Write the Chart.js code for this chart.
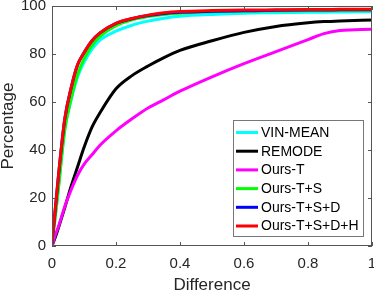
<!DOCTYPE html>
<html>
<head>
<meta charset="utf-8">
<script src="https://cdn.jsdelivr.net/npm/chart.js@4"></script>
<style>
  html, body { margin: 0; padding: 0; background: #fff; }
</style>
</head>
<body>
<canvas id="chart" width="374" height="291"></canvas>
<script>
// Data (x = difference, y = percentage)
const diffValues = [0, 0.01, 0.02, 0.04, 0.06, 0.08, 0.1, 0.125, 0.15, 0.2, 0.25, 0.3, 0.35, 0.4, 0.5, 0.6, 0.7, 0.8, 0.85, 0.9, 1];

const vinMean  = [1, 12, 24, 48.5, 61, 70.5, 76.5, 82, 85.8, 89.5, 92, 93.7, 94.9, 95.7, 96.5, 97, 97.2, 97.4, 97.4, 97.5, 97.6];
const remode   = [0, 3.5, 7.5, 16, 25, 33, 41, 49.5, 55.5, 65.5, 71, 75, 78.5, 81.5, 85.5, 89, 91.5, 93, 93.5, 93.8, 94.2];
const oursT    = [0, 4.5, 8, 16.5, 23.5, 29.5, 34, 38, 42, 48, 53, 57.5, 61, 64.5, 70.5, 76, 81, 86, 88.5, 89.8, 90.3];
const oursTS   = [1, 12, 24, 48.5, 61.5, 71.5, 78, 83.5, 87.3, 91.8, 94.2, 95.6, 96.5, 97, 97.6, 97.9, 98, 98.1, 98.1, 98.2, 98.2];
const oursTSD  = [1, 15, 29, 53, 66, 75.5, 80.5, 85.5, 88.8, 92.8, 94.7, 96, 96.9, 97.4, 97.8, 98, 98.2, 98.3, 98.3, 98.4, 98.4];
const oursTSDH = [1, 15, 29, 53, 66, 75.5, 80.5, 85.5, 88.8, 92.8, 94.8, 96.2, 97.2, 97.7, 98.1, 98.3, 98.4, 98.5, 98.5, 98.6, 98.6];

const seriesNames  = ["VIN-MEAN", "REMODE", "Ours-T", "Ours-T+S", "Ours-T+S+D", "Ours-T+S+D+H"];
const seriesValues = [vinMean, remode, oursT, oursTS, oursTSD, oursTSDH];
const seriesColors = ["#00ffff", "#000000", "#ff00ff", "#00ff00", "#0000ff", "#ff0000"];

const xTicks = [0, 0.2, 0.4, 0.6, 0.8, 1];
const yTicks = [0, 20, 40, 60, 80, 100];

const textColor = "#262626";
const axisColor = "#555555";

Chart.defaults.font.family = "'Liberation Sans', Arial, sans-serif";
Chart.defaults.color = textColor;

// Box around the axes with inward ticks, plus the legend inside the plot
const matlabBox = {
  id: "matlabBox",
  afterDatasetsDraw(chart) {
    const { ctx, chartArea: a, scales } = chart;
    const tick = 4;
    ctx.save();
    ctx.strokeStyle = axisColor;
    ctx.lineWidth = 1;
    ctx.strokeRect(a.left + 0.5, a.top + 0.5, a.width - 1, a.height - 1);
    ctx.beginPath();
    xTicks.forEach(v => {
      const px = Math.round(scales.x.getPixelForValue(v)) + 0.5;
      ctx.moveTo(px, a.bottom); ctx.lineTo(px, a.bottom - tick);
      ctx.moveTo(px, a.top); ctx.lineTo(px, a.top + tick);
    });
    yTicks.forEach(v => {
      const py = Math.round(scales.y.getPixelForValue(v)) + 0.5;
      ctx.moveTo(a.left, py); ctx.lineTo(a.left + tick, py);
      ctx.moveTo(a.right, py); ctx.lineTo(a.right - tick, py);
    });
    ctx.stroke();
    ctx.restore();
  },
  afterDraw(chart) {
    const { ctx, chartArea: a } = chart;
    const left = a.right - 139, top = a.top + 114, w = 130, h = 116;
    const rowH = 18.7;
    ctx.save();
    ctx.fillStyle = "#ffffff";
    ctx.fillRect(left, top, w, h);
    ctx.strokeStyle = "#777777";
    ctx.lineWidth = 1;
    ctx.strokeRect(left + 0.5, top + 0.5, w, h);
    ctx.font = "14px 'Liberation Sans', Arial, sans-serif";
    ctx.textBaseline = "middle";
    ctx.textAlign = "left";
    chart.data.datasets.forEach((ds, i) => {
      const cy = top + 12.5 + i * rowH;
      ctx.strokeStyle = ds.borderColor;
      ctx.lineWidth = 3;
      ctx.beginPath();
      ctx.moveTo(left + 3, cy);
      ctx.lineTo(left + 25, cy);
      ctx.stroke();
      ctx.fillStyle = "#000000";
      ctx.fillText(ds.label, left + 28, cy + 0.5);
    });
    ctx.restore();
  }
};

const datasets = seriesNames.map((name, i) => ({
  label: name,
  data: diffValues.map((x, j) => ({ x, y: seriesValues[i][j] })),
  borderColor: seriesColors[i],
  backgroundColor: seriesColors[i],
  borderWidth: 3,
  pointRadius: 0,
  fill: false,
  cubicInterpolationMode: "monotone",
  order: seriesNames.length - i
}));

new Chart(document.getElementById("chart"), {
  type: "line",
  data: { datasets },
  options: {
    responsive: false,
    animation: false,
    layout: { padding: { top: 6, right: 2, left: 0, bottom: 0 } },
    plugins: {
      legend: { display: false },
      tooltip: { enabled: false }
    },
    scales: {
      x: {
        type: "linear",
        min: 0,
        max: 1,
        grid: { display: false, drawTicks: false },
        border: { display: false },
        ticks: {
          stepSize: 0.2,
          padding: 9,
          maxRotation: 0,
          font: { size: 15 },
          color: textColor,
          callback: v => String(Math.round(v * 10) / 10)
        },
        title: {
          display: true,
          text: "Difference",
          font: { size: 17, lineHeight: 1 },
          padding: { top: 0, bottom: -3 },
          color: textColor
        },
        afterFit: s => { s.height = 45; s.paddingLeft = 0; s.paddingRight = 0; }
      },
      y: {
        min: 0,
        max: 100,
        grid: { display: false, drawTicks: false },
        border: { display: false },
        ticks: { stepSize: 20, padding: 6, font: { size: 15 }, color: textColor },
        title: {
          display: true,
          text: "Percentage",
          font: { size: 17, lineHeight: 1 },
          padding: { top: 0, bottom: 0 },
          color: textColor
        },
        afterFit: s => { s.width = 52; s.paddingTop = 0; s.paddingBottom = 0; }
      }
    }
  },
  plugins: [matlabBox]
});
</script>
</body>
</html>
